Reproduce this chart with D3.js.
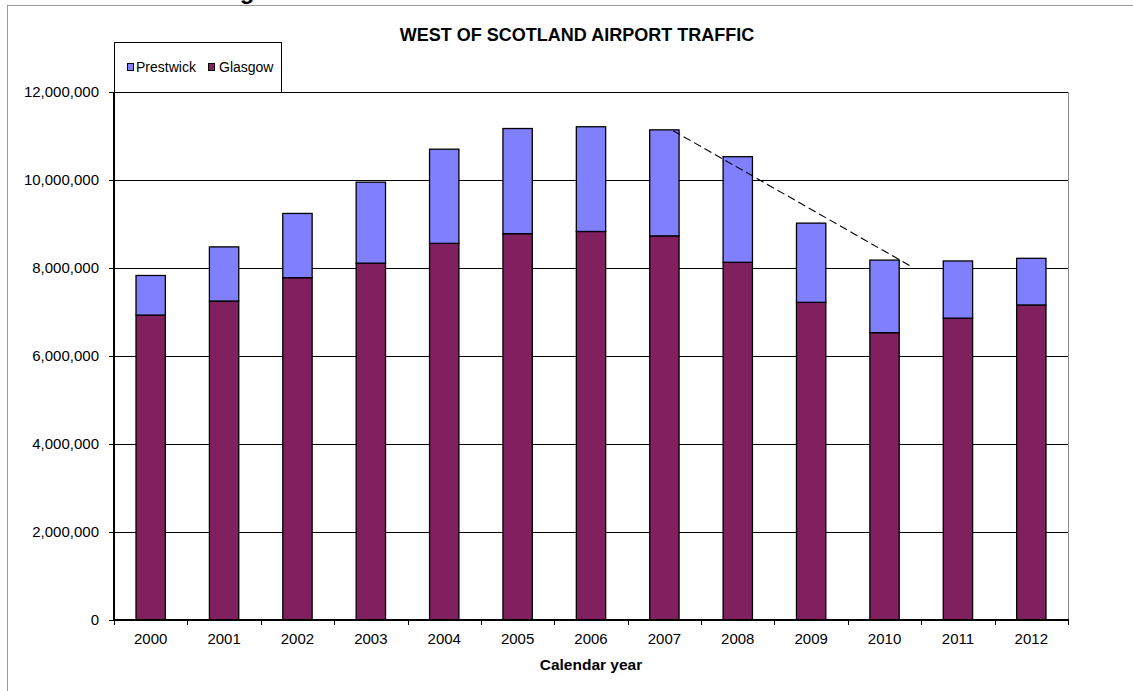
<!DOCTYPE html>
<html>
<head>
<meta charset="utf-8">
<script src="https://cdn.jsdelivr.net/npm/d3@7"></script>
<style>
  html, body { margin: 0; padding: 0; background: #fff; }
  svg { display: block; font-family: Arial, "Liberation Sans", sans-serif; }
</style>
</head>
<body>
<svg id="chart" width="1133" height="691"></svg>
<script>
// ---- data ----
const years = ["2000","2001","2002","2003","2004","2005","2006","2007","2008","2009","2010","2011","2012"];
const glasgow   = [6930000, 7250000, 7780000, 8110000, 8560000, 8780000, 8830000, 8730000, 8130000, 7220000, 6530000, 6860000, 7160000];
const prestwick = [ 900000, 1230000, 1460000, 1840000, 2140000, 2390000, 2380000, 2410000, 2400000, 1800000, 1650000, 1300000, 1060000];
const seriesNames = ["Glasgow", "Prestwick"];
const yTickValues = [0, 2000000, 4000000, 6000000, 8000000, 10000000, 12000000];
const trendPos = [7.62, 10.88];          // positions in category units
const trendValues = [11120000, 8020000];
const titleText = "WEST OF SCOTLAND AIRPORT TRAFFIC";
const xTitleText = "Calendar year";

// ---- layout ----
const svg = d3.select("#chart");
const L = 114, R = 1068, T = 92, B = 620;
const colors = { Glasgow: "#80205F", Prestwick: "#8080FF" };

// outer chart frame
svg.append("rect").attr("x", 7.5).attr("y", 5.5).attr("width", 1200).attr("height", 800)
  .attr("fill", "none").attr("stroke", "#9a9a9a").attr("stroke-width", 1);

// cut-off heading descender above the frame (cut off in the reference too)
svg.append("text").attr("x", 247).attr("y", -1).attr("text-anchor", "middle")
  .attr("font-size", 24).attr("font-weight", "bold").attr("fill", "#000").text("g");

const x = d3.scaleBand().domain(years).range([L, R]).paddingInner(0.6).paddingOuter(0.3);
const xi = d3.scaleLinear().domain([0, years.length]).range([L, R]);
const y = d3.scaleLinear().domain([0, 12000000]).range([B, T]);

// gridlines
svg.append("g").selectAll("line").data(yTickValues.filter(d => d > 0)).join("line")
  .attr("x1", L).attr("x2", R)
  .attr("y1", d => Math.round(y(d)) + 0.5).attr("y2", d => Math.round(y(d)) + 0.5)
  .attr("stroke", "#000").attr("stroke-width", 1);

// plot right border
svg.append("line").attr("x1", R + 0.5).attr("x2", R + 0.5).attr("y1", T).attr("y2", B)
  .attr("stroke", "#8a8a8a").attr("stroke-width", 1);

// stacked bars
const rows = years.map((yr, i) => ({ year: yr, Glasgow: glasgow[i], Prestwick: prestwick[i] }));
const stacked = d3.stack().keys(seriesNames)(rows);
svg.append("g").selectAll("g").data(stacked).join("g")
  .attr("fill", d => colors[d.key])
  .selectAll("rect").data(d => d).join("rect")
  .attr("x", d => x(d.data.year))
  .attr("y", d => y(d[1]))
  .attr("width", x.bandwidth())
  .attr("height", d => y(d[0]) - y(d[1]))
  .attr("stroke", "#000").attr("stroke-width", 1.3);

// trend dashed line
svg.append("line")
  .attr("x1", xi(trendPos[0])).attr("y1", y(trendValues[0]))
  .attr("x2", xi(trendPos[1])).attr("y2", y(trendValues[1]))
  .attr("stroke", "#000").attr("stroke-width", 1.1).attr("stroke-dasharray", "8,4");

// y axis
const yAxis = svg.append("g").attr("transform", `translate(${L},0)`)
  .call(d3.axisLeft(y).tickValues(yTickValues).tickFormat(d3.format(",")).tickSize(5).tickPadding(10));
yAxis.select(".domain").remove();
yAxis.selectAll(".tick line").attr("stroke", "#000");
yAxis.selectAll("text").attr("font-size", 15).attr("fill", "#000").attr("font-family", "Arial, 'Liberation Sans', sans-serif");
svg.append("line").attr("x1", L).attr("x2", L).attr("y1", T).attr("y2", B + 1)
  .attr("stroke", "#000").attr("stroke-width", 2);

// x axis
const xAxis = svg.append("g").attr("transform", `translate(0,${B})`)
  .call(d3.axisBottom(x).tickSize(0).tickPadding(13));
xAxis.select(".domain").remove();
xAxis.selectAll("text").attr("font-size", 15).attr("fill", "#000").attr("font-family", "Arial, 'Liberation Sans', sans-serif");
svg.append("g").selectAll("line").data(d3.range(years.length + 1)).join("line")
  .attr("x1", d => Math.round(xi(d)) + 0.5).attr("x2", d => Math.round(xi(d)) + 0.5)
  .attr("y1", B).attr("y2", B + 5).attr("stroke", "#000").attr("stroke-width", 1);
svg.append("line").attr("x1", L - 1).attr("x2", R + 1).attr("y1", B).attr("y2", B)
  .attr("stroke", "#000").attr("stroke-width", 2);

// titles
svg.append("text").attr("x", 577).attr("y", 41).attr("text-anchor", "middle")
  .attr("font-size", 18).attr("font-weight", "bold").attr("fill", "#000").text(titleText);
svg.append("text").attr("x", 591).attr("y", 670).attr("text-anchor", "middle")
  .attr("font-size", 15.5).attr("font-weight", "bold").attr("fill", "#000").text(xTitleText);

// legend
const lg = svg.append("g");
lg.append("rect").attr("x", 114.5).attr("y", 42.5).attr("width", 167).attr("height", 50)
  .attr("fill", "#fff").attr("stroke", "#000").attr("stroke-width", 1);
const legendItems = [
  { name: "Prestwick", mx: 127, tx: 136 },
  { name: "Glasgow", mx: 208, tx: 219 }
];
legendItems.forEach(it => {
  lg.append("rect").attr("x", it.mx + 0.5).attr("y", 63.5).attr("width", 6).attr("height", 7)
    .attr("fill", colors[it.name]).attr("stroke", "#000").attr("stroke-width", 1);
  lg.append("text").attr("x", it.tx).attr("y", 71.5).attr("font-size", 14).attr("fill", "#000").text(it.name);
});
</script>
</body>
</html>
